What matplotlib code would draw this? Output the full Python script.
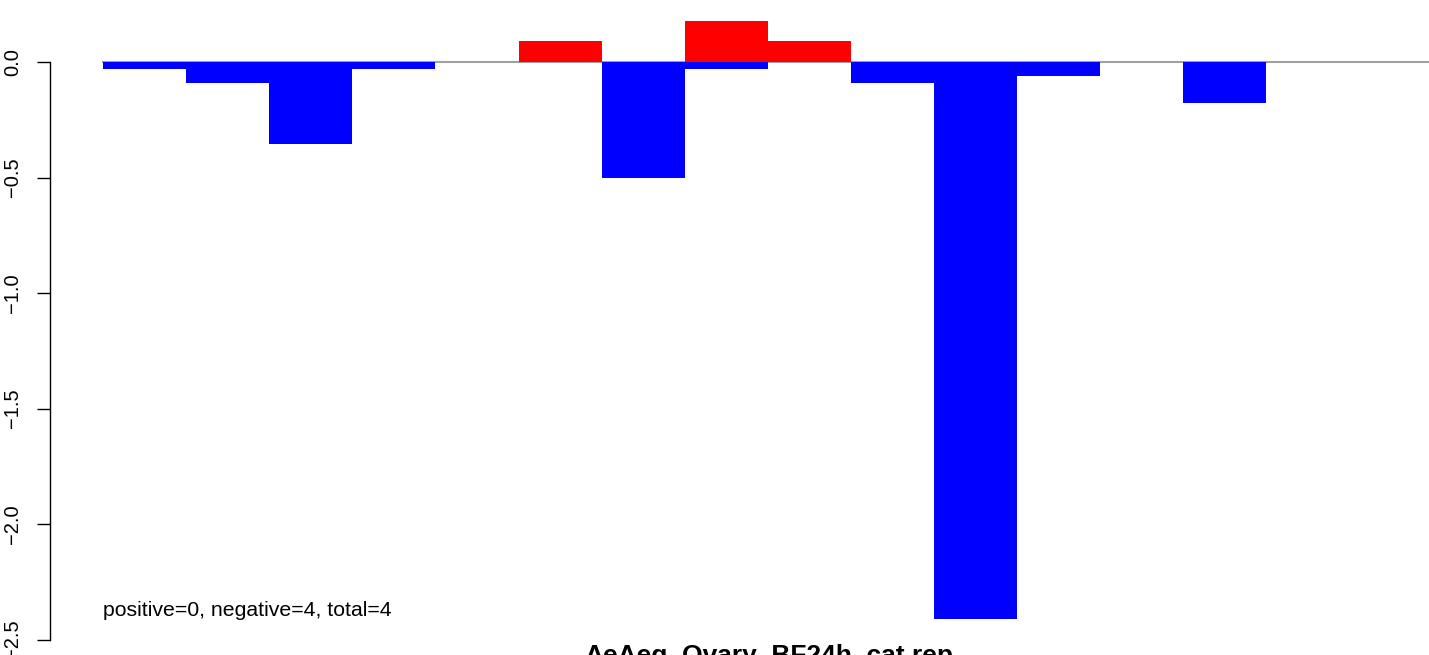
import matplotlib
matplotlib.use("Agg")
import matplotlib.pyplot as plt
import numpy as np

plt.rcParams['font.family'] = ['Liberation Sans', 'DejaVu Sans']

# data
slots = list(range(16))
pos_vals = [0, 0, 0, 0, 0, 0.09, 0, 0.178, 0.09, 0, 0, 0, 0, 0, 0, 0]
neg_vals = [-0.03, -0.09, -0.355, -0.03, 0, 0, -0.50, -0.03, 0, -0.09, -2.41, -0.06, 0, -0.178, 0, 0]
yticks = [0.0, -0.5, -1.0, -1.5, -2.0, -2.5]
ytick_labels = ["0.0", "\u22120.5", "\u22121.0", "\u22121.5", "\u22122.0", "\u22122.5"]
annotation = "positive=0, negative=4, total=4"
title = "AeAeg_Ovary_BF24h_cat.rep"

W, H = 1429, 655
fig = plt.figure(figsize=(W / 100, H / 100), dpi=100)
ax_left, ax_right = 50, 1429
ax = fig.add_axes([ax_left / W, 0, (ax_right - ax_left) / W, 1])

px_per_unit_y = 231.0
zero_px = 62.0
ax.set_ylim(-(H - zero_px) / px_per_unit_y, zero_px / px_per_unit_y)
bar_w_px = 83.1
x0_px = 103
ax.set_xlim(-(x0_px - ax_left) / bar_w_px, (ax_right - x0_px) / bar_w_px)

x = np.array(slots, dtype=float)
ax.axhline(0, xmin=(x0_px - ax_left) / (ax_right - ax_left), color='#a0a0a0', lw=1.5, zorder=1)
ax.bar(x, pos_vals, width=1.0, align='edge', color='#ff0000', linewidth=0, zorder=2)
ax.bar(x, neg_vals, width=1.0, align='edge', color='#0000ff', linewidth=0, zorder=2)

for s in ['top', 'right', 'bottom']:
    ax.spines[s].set_visible(False)
ax.spines['left'].set_bounds(-2.5, 0)
ax.spines['left'].set_linewidth(1.0)
ax.set_xticks([])
ax.set_yticks(yticks)
ax.set_yticklabels(ytick_labels, rotation=90, va='center', fontsize=14.5)
ax.tick_params(axis='y', length=9.4, width=1.0, pad=10.5)
ax.patch.set_alpha(0)

ax.text(0, -(610 - zero_px) / px_per_unit_y, annotation, fontsize=15.3, ha='left', va='center')

fig.text(769 / W, -8 / H, title, fontsize=19, fontweight='bold', ha='center', va='baseline')

fig.savefig("out.png", dpi=100)
